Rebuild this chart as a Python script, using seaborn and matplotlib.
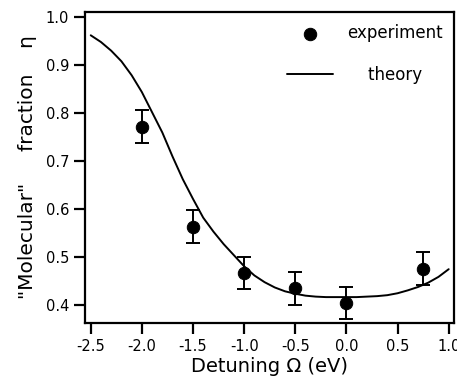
import numpy as np
import matplotlib
matplotlib.use("Agg")
import matplotlib.pyplot as plt
import seaborn as sns

detuning = [-2.0, -1.5, -1.0, -0.5, 0.0, 0.75]
fraction = [0.771, 0.563, 0.467, 0.435, 0.405, 0.476]
fraction_err = [0.034, 0.034, 0.033, 0.034, 0.034, 0.034]

# theory curve (sampled from the figure)
theory_x = [-2.5, -2.4, -2.3, -2.2, -2.1, -2.0, -1.9, -1.8, -1.7, -1.6, -1.5, -1.4,
            -1.3, -1.2, -1.1, -1.0, -0.9, -0.8, -0.7, -0.6, -0.5, -0.4, -0.3, -0.2,
            -0.1, 0.0, 0.1, 0.2, 0.3, 0.4, 0.5, 0.6, 0.7, 0.8, 0.9, 1.0]
theory_y = [0.961, 0.947, 0.929, 0.907, 0.878, 0.843, 0.801, 0.759, 0.709, 0.662, 0.621, 0.582,
            0.553, 0.527, 0.504, 0.481, 0.462, 0.448, 0.437, 0.429, 0.424, 0.420, 0.418, 0.417,
            0.417, 0.417, 0.417, 0.418, 0.419, 0.421, 0.425, 0.431, 0.438, 0.447, 0.459, 0.475]

xticks = [-2.5, -2.0, -1.5, -1.0, -0.5, 0.0, 0.5, 1.0]
yticks = [0.4, 0.5, 0.6, 0.7, 0.8, 0.9, 1.0]

sns.set_style("ticks")
plt.rcParams['font.family'] = ['DejaVu Sans']
plt.rcParams['axes.unicode_minus'] = False
plt.rcParams['text.color'] = 'black'
plt.rcParams['axes.labelcolor'] = 'black'
plt.rcParams['xtick.color'] = 'black'
plt.rcParams['ytick.color'] = 'black'

fig = plt.figure(figsize=(4.57, 3.81), dpi=100)
ax = fig.add_axes([0.186, 0.152, 0.807, 0.817])

sns.lineplot(x=theory_x, y=theory_y, color='black', linewidth=1.4,
             sort=False, estimator=None, ax=ax, label='    theory')
ax.errorbar(detuning, fraction, yerr=fraction_err, fmt='none', ecolor='black',
            elinewidth=1.4, capsize=4.7, capthick=1.4)
sns.scatterplot(x=detuning, y=fraction, color='black', s=80, edgecolor='black',
                ax=ax, label='experiment', zorder=5)

ax.set_xlim(-2.556, 1.05)
ax.set_ylim(0.363, 1.0098)
ax.set_xticks(xticks)
ax.set_xticklabels([f"{t:.1f}" for t in xticks])
ax.set_yticks(yticks)
ax.set_yticklabels([f"{t:.1f}" for t in yticks])
ax.tick_params(axis='both', direction='out', length=8, width=1.6,
               labelsize=10.5, color='black', labelcolor='black')

for side in ['top', 'right', 'bottom', 'left']:
    ax.spines[side].set_visible(True)
    ax.spines[side].set_linewidth(1.6)
    ax.spines[side].set_color('black')

ax.set_xlabel('Detuning Ω (eV)', fontsize=14, labelpad=2)
ax.set_ylabel('"Molecular"     fraction    η', fontsize=14.5, labelpad=6)

handles, labels = ax.get_legend_handles_labels()
ax.legend([handles[1], handles[0]], [labels[1], labels[0]],
          loc='upper left', bbox_to_anchor=(0.547, 0.96), frameon=False,
          fontsize=12, handlelength=2.8, handletextpad=0.8,
          labelspacing=1.4, borderpad=0, borderaxespad=0)

fig.savefig('out.png', dpi=100)
